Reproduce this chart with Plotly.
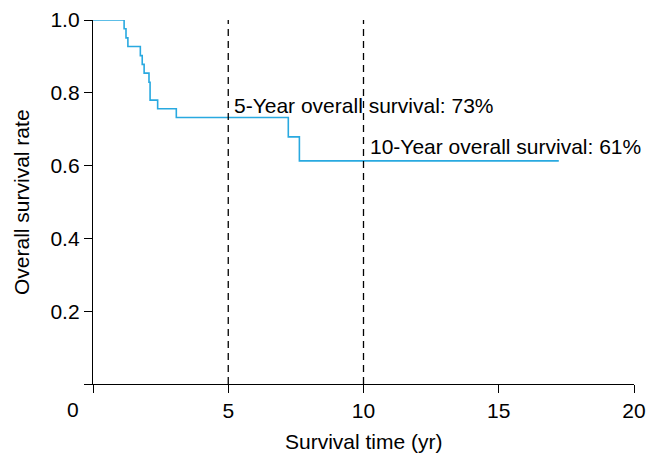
import plotly.graph_objects as go

# Kaplan-Meier steps
time_yr = [0, 1.15, 1.22, 1.29, 1.75, 1.82, 1.89, 2.07, 2.11, 2.39, 3.08, 7.22, 7.63, 17.22]
survival = [1.0, 0.976, 0.951, 0.927, 0.902, 0.878, 0.854, 0.829, 0.780, 0.756, 0.732, 0.679, 0.613, 0.613]

marker_years = [5, 10]
marker_labels = ["5-Year overall survival: 73%", "10-Year overall survival: 61%"]
marker_label_y = [0.765, 0.652]

x_ticks = [0, 5, 10, 15, 20]
x_ticktext = ["", "5", "10", "15", "20"]
y_ticks = [0, 0.2, 0.4, 0.6, 0.8, 1.0]
y_ticktext = ["", "0.2", "0.4", "0.6", "0.8", "1.0"]

font = dict(family="Liberation Sans, Arial, sans-serif", size=21, color="black")

fig = go.Figure()
fig.add_trace(go.Scatter(
    x=time_yr, y=survival, mode="lines", line_shape="hv",
    line=dict(color="#29a9e0", width=1.6), showlegend=False, hoverinfo="skip",
))

for yr, txt, ty in zip(marker_years, marker_labels, marker_label_y):
    fig.add_shape(type="line", x0=yr, x1=yr, y0=0, y1=1,
                  line=dict(color="black", width=1.3, dash="7px,5px"))
    fig.add_annotation(x=yr, y=ty, text=txt, showarrow=False,
                       xanchor="left", xshift=4, font=font)

# shared "0" in the corner
fig.add_annotation(x=0, y=0, text="0", showarrow=False, xanchor="center",
                   yanchor="top", xshift=-20, yshift=-12, font=font)

# axis titles as annotations so the margins stay fixed
fig.add_annotation(xref="paper", yref="paper", x=0.5, y=0, yshift=-57,
                   text="Survival time (yr)", showarrow=False, yanchor="middle", font=font)
fig.add_annotation(xref="paper", yref="paper", x=0, y=0.5, xshift=-72,
                   text="Overall survival rate", textangle=-90, showarrow=False,
                   xanchor="center", font=font)

fig.update_layout(
    width=661, height=468,
    margin=dict(l=93, r=27, t=20, b=84),
    plot_bgcolor="white", paper_bgcolor="white",
    font=font,
)
fig.update_xaxes(
    range=[0, 20], tickvals=x_ticks, ticktext=x_ticktext, automargin=False,
    showline=True, linecolor="black", linewidth=1.3, ticks="outside",
    ticklen=8, tickcolor="black", tickwidth=1.3, showgrid=False, zeroline=False,
    tickfont=font,
)
fig.update_yaxes(
    range=[0, 1], tickvals=y_ticks, ticktext=y_ticktext, automargin=False,
    showline=True, linecolor="black", linewidth=1.3, ticks="outside",
    ticklen=8, tickcolor="black", tickwidth=1.3, showgrid=False, zeroline=False,
    tickfont=font,
)

# drop the page's default body margin so the figure sits at the window corner
fig.write_html("out.html", config={"displayModeBar": False},
               post_script="document.body.style.margin='0';")
